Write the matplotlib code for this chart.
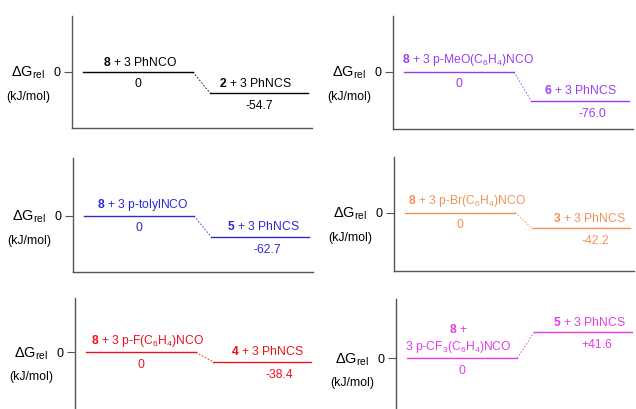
import matplotlib
matplotlib.use("Agg")
import matplotlib.pyplot as plt

plt.rcParams['font.family'] = ['Liberation Sans', 'DejaVu Sans']
plt.rcParams['mathtext.fontset'] = 'custom'
plt.rcParams['mathtext.rm'] = 'Liberation Sans'
plt.rcParams['mathtext.it'] = 'Liberation Sans:italic'
plt.rcParams['mathtext.bf'] = 'Liberation Sans:bold'

# data for the six panels
start_labels = ["$\\mathbf{8}$ + 3 PhNCO",
                "$\\mathbf{8}$ + 3 p-MeO(C$_6$H$_4$)NCO",
                "$\\mathbf{8}$ + 3 p-tolylNCO",
                "$\\mathbf{8}$ + 3 p-Br(C$_6$H$_4$)NCO",
                "$\\mathbf{8}$ + 3 p-F(C$_6$H$_4$)NCO",
                "$\\mathbf{8}$ +\n3 p-CF$_3$(C$_6$H$_4$)NCO"]
end_labels = ["$\\mathbf{2}$ + 3 PhNCS",
              "$\\mathbf{6}$ + 3 PhNCS",
              "$\\mathbf{5}$ + 3 PhNCS",
              "$\\mathbf{3}$ + 3 PhNCS",
              "$\\mathbf{4}$ + 3 PhNCS",
              "$\\mathbf{5}$ + 3 PhNCS"]
start_values = [0, 0, 0, 0, 0, 0]
end_values = [-54.7, -76.0, -62.7, -42.2, -38.4, 41.6]
value_texts = ["-54.7", "-76.0", "-62.7", "-42.2", "-38.4", "+41.6"]
colors = ["black", "#9b3cf0", "#2b2bd0", "#f4915a", "#e8121e", "#e63ce6"]

# layout (pixels in a 636x409 figure)
W, H = 636, 409
boxes = [(72, 16, 312, 128), (393, 16, 633, 129),
         (73, 158, 313, 272), (394, 157, 634, 271),
         (75, 298, 315, 409), (396, 299, 636, 409)]
ylims = [(-146, 146), (-151, 148), (-170, 176), (-158, 150), (-231, 222), (-81, 95)]
lab1_dx = [2, 9, 4, 7, 7, -4]
lab2_dx = [-4, 0, 3, 8, 5, 6]
val2_dx = [0, 12, 7, 14, 17, 14]
fs = 8.7

fig = plt.figure(figsize=(W / 100, H / 100), dpi=100)

for i in range(6):
    l, t, r, b = boxes[i]
    ax = fig.add_axes([l / W, 1 - b / H, (r - l) / W, (b - t) / H])
    ax.set_xlim(0, 240)
    ax.set_ylim(*ylims[i])
    c = colors[i]
    y0, y1 = start_values[i], end_values[i]
    x0a, x0b = 11, 121
    x1a, x1b = 138, 236
    ax.plot([x0a, x0b], [y0, y0], color=c, lw=1)
    ax.plot([x1a, x1b], [y1, y1], color=c, lw=1)
    ax.plot([x0b, x1a], [y0, y1], color=c, lw=0.6, ls=(0, (2, 2)))

    ax.annotate(start_labels[i], xy=((x0a + x0b) / 2 + lab1_dx[i], y0),
                xytext=(0, 2.5), textcoords='offset points',
                ha='center', va='bottom', color=c, fontsize=fs,
                multialignment='center', linespacing=1.25)
    ax.annotate("0", xy=((x0a + x0b) / 2, y0), xytext=(0, -4.5),
                textcoords='offset points', ha='center', va='top',
                color=c, fontsize=fs)
    ax.annotate(end_labels[i], xy=((x1a + x1b) / 2 + lab2_dx[i], y1),
                xytext=(0, 2.5), textcoords='offset points',
                ha='center', va='bottom', color=c, fontsize=fs)
    ax.annotate(value_texts[i], xy=((x1a + x1b) / 2 + val2_dx[i], y1),
                xytext=(0, -5), textcoords='offset points',
                ha='center', va='top', color=c, fontsize=fs)

    for s in ['top', 'right']:
        ax.spines[s].set_visible(False)
    if i >= 4:
        ax.spines['bottom'].set_visible(False)
    for s in ['left', 'bottom']:
        ax.spines[s].set_color('#555555')
        ax.spines[s].set_linewidth(1)
    ax.set_xticks([])
    ax.set_yticks([0])
    ax.set_yticklabels(["0"])
    ax.tick_params(axis='y', length=6, width=0.8, color='#555555',
                   labelsize=9, pad=2)

    # y label
    zero_px = t + (ylims[i][1] - 0) / (ylims[i][1] - ylims[i][0]) * (b - t)
    fig.text((l - 44) / W, 1 - (zero_px + 1) / H, "$\\Delta$G$_{\\mathregular{rel}}$",
             ha='center', va='center', fontsize=10.5)
    fig.text((l - 44) / W, 1 - (zero_px + 25) / H, "(kJ/mol)",
             ha='center', va='center', fontsize=8.8)

fig.savefig("out.png", dpi=100)
